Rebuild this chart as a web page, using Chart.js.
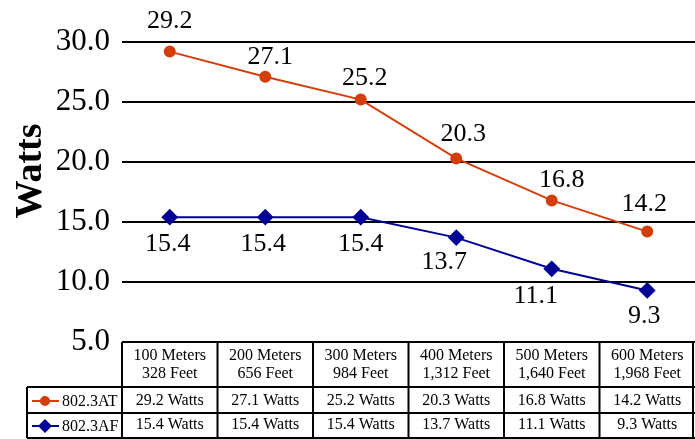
<!DOCTYPE html>
<html>
<head>
<meta charset="utf-8">
<script src="https://cdn.jsdelivr.net/npm/chart.js@4"></script>
<style>
  body { margin: 0; background: #fff; }
  #wrap { width: 695px; height: 439px; position: relative; }
</style>
</head>
<body>
<div id="wrap"><canvas id="chartLine"></canvas></div>
<script>
// data
const meters = ["100 Meters", "200 Meters", "300 Meters", "400 Meters", "500 Meters", "600 Meters"];
const feet = ["328 Feet", "656 Feet", "984 Feet", "1,312 Feet", "1,640 Feet", "1,968 Feet"];
const seriesNames = ["802.3AT", "802.3AF"];
const valuesAT = [29.2, 27.1, 25.2, 20.3, 16.8, 14.2];
const valuesAF = [15.4, 15.4, 15.4, 13.7, 11.1, 9.3];
const yTicks = [5, 10, 15, 20, 25, 30];

const orange = "rgb(212, 62, 12)";
const navy = "rgb(0, 0, 150)";
const serif = "'Liberation Serif', 'Times New Roman', serif";

// label nudges (style only) per series
const labelDx = [[0, 5, 4, 7, 10, -3], [-2, -2, 0, -12, -16, -3]];
const labelDy = [[-30, -20, -21, -24, -20, -27], [27, 27, 27, 25, 27, 26]];

const pointLabels = {
  id: "pointLabels",
  afterDatasetsDraw(chart) {
    const ctx = chart.ctx;
    ctx.save();
    ctx.font = "26px " + serif;
    ctx.fillStyle = "#000";
    ctx.textAlign = "center";
    ctx.textBaseline = "middle";
    chart.data.datasets.forEach((ds, d) => {
      chart.getDatasetMeta(d).data.forEach((pt, i) => {
        ctx.fillText(ds.data[i].toFixed(1), pt.x + labelDx[d][i], pt.y + labelDy[d][i]);
      });
    });
    ctx.restore();
  }
};

const dataTable = {
  id: "dataTable",
  afterDraw(chart) {
    const ctx = chart.ctx;
    const xs = chart.scales.x;
    const area = chart.chartArea;
    const step = xs.getPixelForValue(1) - xs.getPixelForValue(0);
    const top = area.bottom;
    const rowY = [top, top + 45, top + 71, top + 96];
    const legendLeft = 27;
    ctx.save();
    ctx.strokeStyle = "#000";
    ctx.lineWidth = 2;
    ctx.beginPath();
    // horizontal lines
    ctx.moveTo(area.left, rowY[0]); ctx.lineTo(area.right, rowY[0]);
    ctx.moveTo(legendLeft, rowY[1]); ctx.lineTo(area.right, rowY[1]);
    ctx.moveTo(legendLeft, rowY[2]); ctx.lineTo(area.right, rowY[2]);
    ctx.moveTo(legendLeft, rowY[3]); ctx.lineTo(area.right, rowY[3]);
    // vertical lines
    ctx.moveTo(legendLeft, rowY[1]); ctx.lineTo(legendLeft, rowY[3]);
    for (let i = 0; i <= meters.length; i++) {
      const x = Math.min(xs.getPixelForValue(0) - step / 2 + i * step, area.right - 2);
      ctx.moveTo(x, rowY[0]); ctx.lineTo(x, rowY[3]);
    }
    ctx.stroke();

    ctx.fillStyle = "#000";
    ctx.font = "16px " + serif;
    ctx.textAlign = "center";
    ctx.textBaseline = "middle";
    meters.forEach((m, i) => {
      const x = xs.getPixelForValue(i);
      ctx.fillText(m, x, top + 14);
      ctx.fillText(feet[i], x, top + 32);
      ctx.fillText(valuesAT[i].toFixed(1) + " Watts", x, top + 59);
      ctx.fillText(valuesAF[i].toFixed(1) + " Watts", x, top + 83);
    });

    // legend keys
    const keyY = [top + 59, top + 84];
    chart.data.datasets.forEach((ds, d) => {
      const y = keyY[d];
      ctx.strokeStyle = ds.borderColor;
      ctx.lineWidth = 2;
      ctx.beginPath();
      ctx.moveTo(32, y); ctx.lineTo(59, y);
      ctx.stroke();
      ctx.fillStyle = ds.borderColor;
      ctx.beginPath();
      if (d === 0) {
        ctx.arc(45, y, 5, 0, Math.PI * 2);
      } else {
        ctx.moveTo(45, y - 7); ctx.lineTo(52, y); ctx.lineTo(45, y + 7); ctx.lineTo(38, y);
        ctx.closePath();
      }
      ctx.fill();
      ctx.fillStyle = "#000";
      ctx.textAlign = "left";
      ctx.font = "16px " + serif;
      ctx.fillText(ds.label, 62, y + 1);
    });
    ctx.restore();
  }
};

const configLineChart = {
  type: "line",
  data: {
    labels: meters,
    datasets: [
      {
        label: seriesNames[0],
        data: valuesAT,
        borderColor: orange,
        backgroundColor: orange,
        borderWidth: 2,
        pointStyle: "circle",
        pointRadius: 5,
        pointHoverRadius: 5,
        clip: false,
      },
      {
        label: seriesNames[1],
        data: valuesAF,
        borderColor: navy,
        backgroundColor: navy,
        borderWidth: 2,
        pointStyle: "rectRot",
        pointRadius: 7,
        pointHoverRadius: 7,
        clip: false,
      },
    ],
  },
  options: {
    responsive: true,
    maintainAspectRatio: false,
    animation: false,
    layout: { autoPadding: false, padding: { top: 0, right: 0, bottom: 97, left: 0 } },
    plugins: {
      legend: { display: false },
      tooltip: { enabled: false },
    },
    scales: {
      x: {
        type: "category",
        display: false,
        offset: true,
      },
      y: {
        min: 5,
        max: 33.5,
        afterBuildTicks: (s) => { s.ticks = yTicks.map((v) => ({ value: v })); },
        afterFit: (s) => {
          s.width = 122;
          s.paddingTop = 0;
          s.paddingBottom = 0;
        },
        border: { display: false },
        grid: { color: "#000", lineWidth: 2, drawTicks: false },
        ticks: {
          color: "#000",
          padding: 12,
          font: { family: serif, size: 31 },
          callback: (v) => Number(v).toFixed(1),
        },
        title: {
          display: true,
          text: "Watts",
          color: "#000",
          padding: { top: 8, bottom: 0 },
          font: { family: serif, size: 38, weight: "bold" },
        },
      },
    },
  },
  plugins: [pointLabels, dataTable],
};

var chartLine = new Chart(document.getElementById("chartLine"), configLineChart);
</script>
</body>
</html>
